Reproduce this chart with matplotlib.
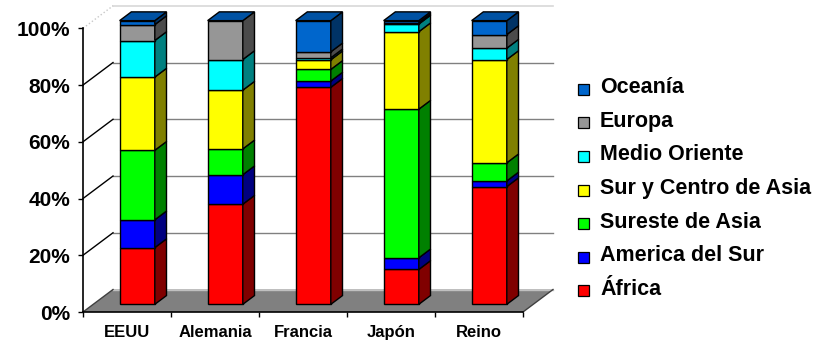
import numpy as np
import matplotlib
matplotlib.use('Agg')
import matplotlib.pyplot as plt
from matplotlib.patches import Polygon, Rectangle
from matplotlib.lines import Line2D

plt.rcParams['font.family'] = ['Liberation Sans', 'DejaVu Sans']
plt.rcParams['font.weight'] = 'bold'

paises = ['EEUU', 'Alemania', 'Francia', 'Japón', 'Reino']

# porcentaje de cada región por país (de abajo hacia arriba)
africa = [20.0, 35.3, 76.5, 12.3, 41.5]
america_sur = [9.8, 10.4, 2.2, 4.1, 2.0]
sureste_asia = [24.5, 9.1, 4.1, 52.4, 6.4]
sur_centro_asia = [25.8, 20.7, 3.4, 27.3, 36.4]
medio_oriente = [12.9, 10.8, 0.7, 2.7, 4.0]
europa = [5.6, 13.7, 2.1, 0.5, 4.8]
oceania = [1.4, 0.0, 11.0, 0.7, 4.9]

regiones = ['África', 'America del Sur', 'Sureste de Asia',
            'Sur y Centro de Asia', 'Medio Oriente', 'Europa', 'Oceanía']
series = [africa, america_sur, sureste_asia, sur_centro_asia,
          medio_oriente, europa, oceania]
# color frontal y color de la cara lateral
frente = ['#FF0000', '#0000FF', '#00FF00', '#FFFF00', '#00FFFF', '#969696', '#0066CC']
lado = ['#800000', '#000080', '#008000', '#808000', '#008080', '#4B4B4B', '#003366']
techo = '#0052A3'

fig = plt.figure(figsize=(8.27, 3.42), dpi=100)
ax = fig.add_axes([83 / 827, 30 / 342, 440 / 827, 283.7 / 342])
ax.set_xlim(-0.5, 4.5)
ax.set_ylim(0, 100)

# profundidad (perspectiva oblicua)
DX = 30 / 88.0
DY = 22.5 / 2.837
d0, d1 = 0.34, 0.73
w = 0.4


def proj(x, y, d):
    return (x + d * DX, y + d * DY)


def cara(pts, color, z, lw=1.0, ec='black'):
    p = Polygon([proj(*q) for q in pts], closed=True, facecolor=color,
                edgecolor=ec, linewidth=lw, clip_on=False, zorder=z)
    ax.add_patch(p)


# pared del fondo y pared izquierda
for v in [20, 40, 60, 80]:
    xa, ya = proj(-0.5, v, 1)
    xb, yb = proj(4.5, v, 1)
    ax.add_line(Line2D([xa, xb], [ya, yb], color='#808080', lw=1.0, clip_on=False, zorder=1))
    x0, y0 = proj(-0.5, v, 0)
    ax.add_line(Line2D([x0, xa], [y0, ya], color='black', lw=1.0, clip_on=False, zorder=1))
xa, ya = proj(-0.5, 100, 1)
xb, yb = proj(4.5, 100, 1)
ax.add_line(Line2D([xa, xb], [ya, yb], color='#D8D8D8', lw=1.2, clip_on=False, zorder=1))
x0, y0 = proj(-0.5, 100, 0)
ax.add_line(Line2D([x0, xa], [y0, ya], color='#C8C8C8', lw=1.0, ls=':', clip_on=False, zorder=1))

# piso
cara([(-0.5, 0, 0), (4.5, 0, 0), (4.5, 0, 1), (-0.5, 0, 1)], '#808080', 2, lw=0, ec='none')
xa, ya = proj(-0.5, 0, 1)
xb, yb = proj(4.5, 0, 1)
ax.add_line(Line2D([xa, xb], [ya, yb], color='#C0C0C0', lw=1.0, clip_on=False, zorder=2))
x0, y0 = proj(4.5, 0, 0)
ax.add_line(Line2D([x0, xb], [y0, yb], color='#404040', lw=1.0, clip_on=False, zorder=2))
x0, y0 = proj(-0.5, 0, 0)
ax.add_line(Line2D([x0, xa], [y0, ya], color='#404040', lw=1.0, clip_on=False, zorder=2))

# barras apiladas en 3D
for i in range(len(paises)):
    base = 0.0
    for k, s in enumerate(series):
        h = s[i]
        if h > 0:
            y0, y1 = base, base + h
            cara([(i - w / 2, y0, d0), (i + w / 2, y0, d0),
                  (i + w / 2, y1, d0), (i - w / 2, y1, d0)], frente[k], 3)
            cara([(i + w / 2, y0, d0), (i + w / 2, y0, d1),
                  (i + w / 2, y1, d1), (i + w / 2, y1, d0)], lado[k], 3)
        base += h
    cara([(i - w / 2, base, d0), (i + w / 2, base, d0),
          (i + w / 2, base, d1), (i - w / 2, base, d1)], techo, 3)

# ejes
for s in ['top', 'right']:
    ax.spines[s].set_visible(False)
ax.spines['left'].set_linewidth(1.2)
ax.spines['bottom'].set_linewidth(1.2)
ax.spines['left'].set_zorder(4)
ax.spines['bottom'].set_zorder(4)
ax.set_yticks(np.arange(0, 101, 20))
ax.set_yticklabels(['%d%%' % v for v in range(0, 101, 20)], fontsize=15, fontweight='bold')
ax.tick_params(axis='y', direction='out', length=3.6, width=1.0, pad=5.5)
ax.set_xticks(np.arange(-0.5, 4.6, 1.0))
ax.set_xticklabels([])
ax.set_xticks(np.arange(len(paises)), minor=True)
ax.set_xticklabels(paises, minor=True, fontsize=12, fontweight='bold', va='baseline')
ax.tick_params(axis='x', which='major', direction='out', length=3.6, width=1.0)
ax.tick_params(axis='x', which='minor', length=0, pad=18)
ax.patch.set_visible(False)

# leyenda
H = 342.0
for j, k in enumerate(range(len(regiones) - 1, -1, -1)):
    yb = 93.3 + 33.6 * j
    fig.add_artist(Rectangle((578 / 827, (H - yb - 1.5) / H), 11 / 827, 11 / H,
                             facecolor=frente[k], edgecolor='black', linewidth=0.9,
                             transform=fig.transFigure))
    fig.text(600 / 827, (H - yb) / H, regiones[k], fontsize=15.5, fontweight='bold',
             va='baseline', ha='left')

fig.savefig('out.png', dpi=100)
